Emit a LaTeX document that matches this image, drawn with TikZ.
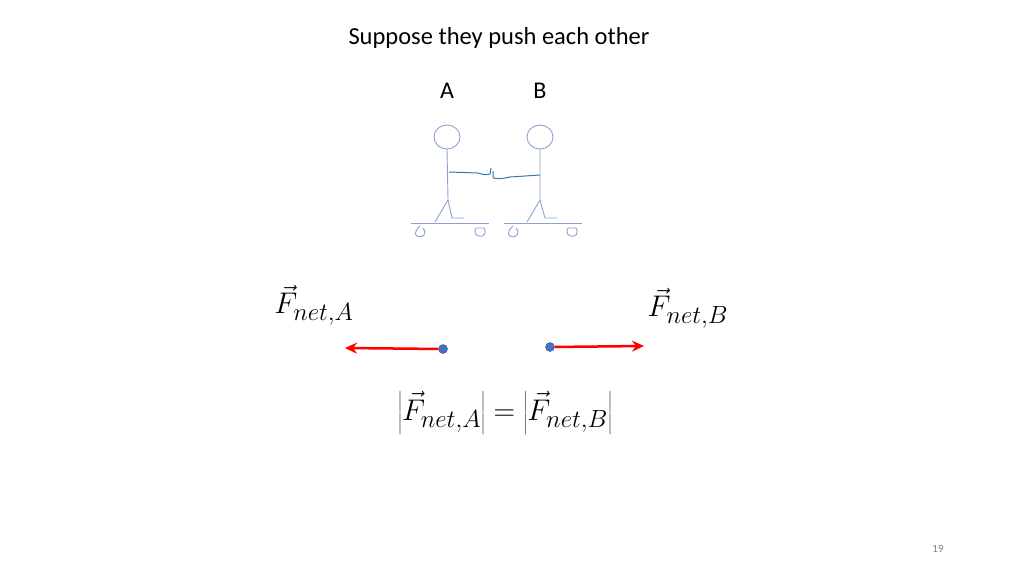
\documentclass[tikz,border=0pt]{standalone}
\usepackage{fontspec}
\setmainfont{Carlito}
\usetikzlibrary{arrows.meta}
\begin{document}
\begin{tikzpicture}[x=1pt,y=-1pt,
  fig/.style={draw={rgb,255:red,140;green,160;blue,210},line width=0.9pt},
  arm/.style={draw={rgb,255:red,50;green,120;blue,180},line width=1pt},
  force/.style={draw=red,line width=2.5pt,-{Stealth[length=12pt,width=11pt]}},
  dot/.style={circle,fill={rgb,255:red,68;green,114;blue,196},draw={rgb,255:red,47;green,82;blue,143},inner sep=0pt,minimum size=9pt},
  mathl/.style={font=\fontsize{30}{34}\selectfont,scale=1.2}]
\useasboundingbox (0,0) rectangle (1024,576);
\node (title) at (499,38) {\fontsize{24.5}{28}\selectfont Suppose they push each other};
\node (la) at (447,91) {\fontsize{24}{28}\selectfont A};
\node (lb) at (540,91) {\fontsize{24}{28}\selectfont B};
% figure A
\draw[fig] (447,137) ellipse (13 and 12);
\draw[fig] (447,149) -- (448,200) -- (435,222);
\draw[fig] (448,200) -- (452,218) -- (464,218);
\draw[fig] (411,223) -- (489,223);
\draw[fig] (420,226) .. controls (405,240) and (432,240) .. (423,228);
\draw[fig] (476,228) .. controls (470,238) and (490,240) .. (484,228) -- (476,228);
% figure B
\draw[fig] (540,137) ellipse (13 and 12);
\draw[fig] (540,149) -- (540,200) -- (527,222);
\draw[fig] (540,200) -- (545,218) -- (557,218);
\draw[fig] (504,223) -- (582,223);
\draw[fig] (513,226) .. controls (498,240) and (525,240) .. (516,228);
\draw[fig] (568,228) .. controls (562,238) and (582,240) .. (576,228) -- (568,228);
% arms
\draw[arm] (449,172) -- (478,173) .. controls (485,175) .. (490,174) -- (491,168);
\draw[arm] (540,175) -- (510,177) .. controls (500,179) .. (493,178) -- (493,171);
% forces
\node[mathl] (fa) at (314,305) {$\vec{F}_{net,A}$};
\node[mathl] (fb) at (688,308) {$\vec{F}_{net,B}$};
\node[dot] (da) at (443,349) {};
\node[dot] (db) at (550,347) {};
\coordinate (ea) at (345,348);
\coordinate (eb) at (644,346);
\draw[force] (da) -- (ea);
\draw[force] (db) -- (eb);
\node[mathl] (eq) at (505,413) {$\left|\vec{F}_{net,A}\right|=\left|\vec{F}_{net,B}\right|$};
\node[text=gray] (pg) at (938,549) {\fontsize{11}{13}\selectfont 19};
\end{tikzpicture}
\end{document}
